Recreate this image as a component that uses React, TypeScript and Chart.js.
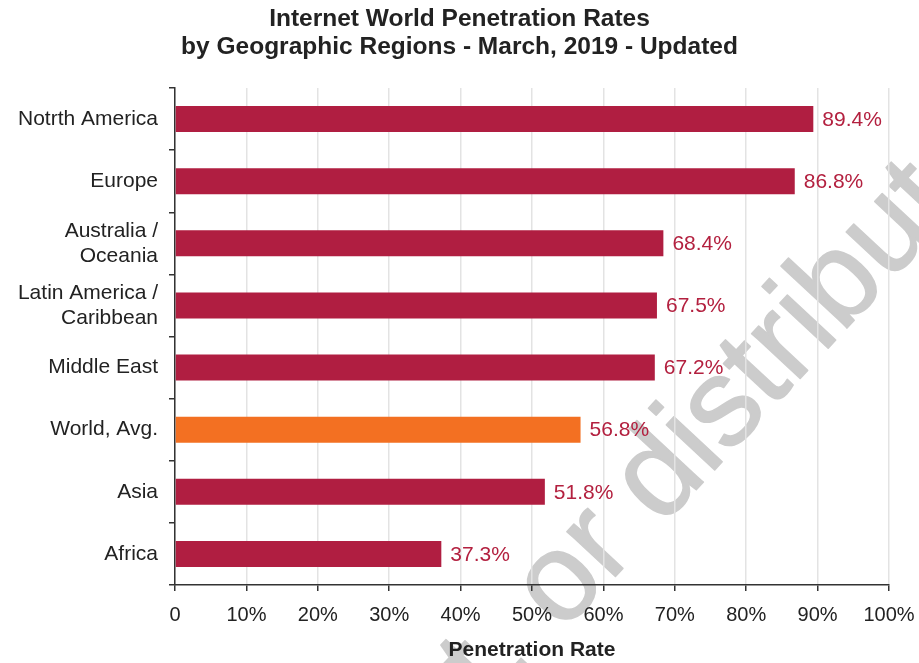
import React, { useEffect, useRef } from 'react';
import { Chart, registerables } from 'chart.js';

Chart.register(...registerables);

const categories: (string | string[])[] = [
  'Notrth America',
  'Europe',
  ['Australia /', 'Oceania'],
  ['Latin America /', 'Caribbean'],
  'Middle East',
  'World, Avg.',
  'Asia',
  'Africa',
];
const penetrationRates = [89.4, 86.8, 68.4, 67.5, 67.2, 56.8, 51.8, 37.3];
const highlightCategory = 'World, Avg.';
const xTickValues = [0, 10, 20, 30, 40, 50, 60, 70, 80, 90, 100];
const titleLines = ['Internet World Penetration Rates', 'by Geographic Regions - March, 2019 - Updated'];
const xAxisTitle = 'Penetration Rate';
const watermarkText = 'Do not copy, post, or distribute';
const watermarkPrefix = 'Do not copy, post, ';

const FONT = "'Liberation Sans', Arial, Helvetica, sans-serif";
const BAR_RED = '#b01e41';
const BAR_ORANGE = '#f37022';
const LABEL_RED = '#b3203f';
const TEXT = '#222222';

const watermarkPlugin = {
  id: 'watermark',
  beforeDraw(chart: any) {
    const ctx = chart.ctx as CanvasRenderingContext2D;
    const size = 125;
    ctx.save();
    ctx.font = `${size}px ${FONT}`;
    ctx.fillStyle = '#cccccc';
    ctx.strokeStyle = '#cccccc';
    ctx.lineWidth = 1.5;
    ctx.lineJoin = 'round';
    ctx.textAlign = 'left';
    ctx.textBaseline = 'alphabetic';
    const off = ctx.measureText(watermarkPrefix).width + ctx.measureText('o').width / 2;
    ctx.translate(562, 586);
    ctx.rotate((-47 * Math.PI) / 180);
    ctx.fillText(watermarkText, -off, size * 0.26);
    ctx.strokeText(watermarkText, -off, size * 0.26);
    ctx.restore();
  },
};

const titlePlugin = {
  id: 'twoLineTitle',
  afterDraw(chart: any) {
    const ctx = chart.ctx as CanvasRenderingContext2D;
    ctx.save();
    ctx.font = `bold 24.5px ${FONT}`;
    ctx.fillStyle = TEXT;
    ctx.textAlign = 'center';
    ctx.textBaseline = 'middle';
    const cx = chart.width / 2;
    titleLines.forEach((line, i) => {
      ctx.fillText(line, cx, 19 + i * 28);
    });
    ctx.restore();
  },
};

const dataLabelPlugin = {
  id: 'dataLabels',
  afterDatasetsDraw(chart: any) {
    const ctx = chart.ctx as CanvasRenderingContext2D;
    const meta = chart.getDatasetMeta(0);
    ctx.save();
    ctx.font = `21px ${FONT}`;
    ctx.fillStyle = LABEL_RED;
    ctx.textAlign = 'left';
    ctx.textBaseline = 'middle';
    meta.data.forEach((bar: any, i: number) => {
      ctx.fillText(penetrationRates[i].toFixed(1) + '%', bar.x + 9, bar.y + 1);
    });
    ctx.restore();
  },
};

export default function App() {
  const canvasRef = useRef<HTMLCanvasElement | null>(null);

  useEffect(() => {
    if (!canvasRef.current) return;
    const labelKeys = categories.map((c) => (Array.isArray(c) ? c.join(' ') : c));
    const chart = new Chart(canvasRef.current, {
      type: 'bar',
      data: {
        labels: categories as any,
        datasets: [
          {
            data: penetrationRates,
            backgroundColor: labelKeys.map((k) => (k === highlightCategory ? BAR_ORANGE : BAR_RED)),
            barPercentage: 0.42,
            categoryPercentage: 1,
          },
        ],
      },
      options: {
        indexAxis: 'y',
        animation: false,
        responsive: true,
        maintainAspectRatio: false,
        layout: { padding: { left: 0, right: 30, top: 88, bottom: 0 } },
        plugins: {
          legend: { display: false },
          tooltip: { enabled: false },
          title: { display: false },
        },
        scales: {
          x: {
            type: 'linear',
            min: 0,
            max: 100,
            afterBuildTicks: (scale: any) => {
              scale.ticks = xTickValues.map((v) => ({ value: v }));
            },
            afterFit: (scale: any) => {
              scale.height = 78;
              scale.paddingLeft = 0;
              scale.paddingRight = 0;
            },
            ticks: {
              color: TEXT,
              font: { family: FONT, size: 20 },
              padding: 12,
              callback: (v: any) => (Number(v) === 0 ? '0' : v + '%'),
            },
            grid: {
              color: '#e3e3e3',
              lineWidth: 1.5,
              tickColor: '#333333',
              tickLength: 6,
            },
            border: { display: true, color: '#333333', width: 1.5 },
            title: {
              display: true,
              text: xAxisTitle,
              color: TEXT,
              font: { family: FONT, size: 21, weight: 'bold' },
              padding: { top: 2, bottom: 0 },
            },
          },
          y: {
            type: 'category',
            afterFit: (scale: any) => {
              scale.width = 175;
              scale.paddingTop = 0;
              scale.paddingBottom = 0;
            },
            ticks: {
              color: TEXT,
              font: { family: FONT, size: 21, lineHeight: 1.2 },
              padding: 11,
            },
            grid: {
              drawOnChartArea: false,
              color: '#333333',
              lineWidth: 1.5,
              tickLength: 6,
              offset: true,
            },
            border: { display: true, color: '#333333', width: 1.5 },
          },
        },
      },
      plugins: [watermarkPlugin, dataLabelPlugin, titlePlugin],
    });
    return () => chart.destroy();
  }, []);

  return (
    <div style={{ position: 'absolute', left: 0, top: 0, width: 919, height: 663, background: '#ffffff' }}>
      <canvas ref={canvasRef} />
    </div>
  );
}
